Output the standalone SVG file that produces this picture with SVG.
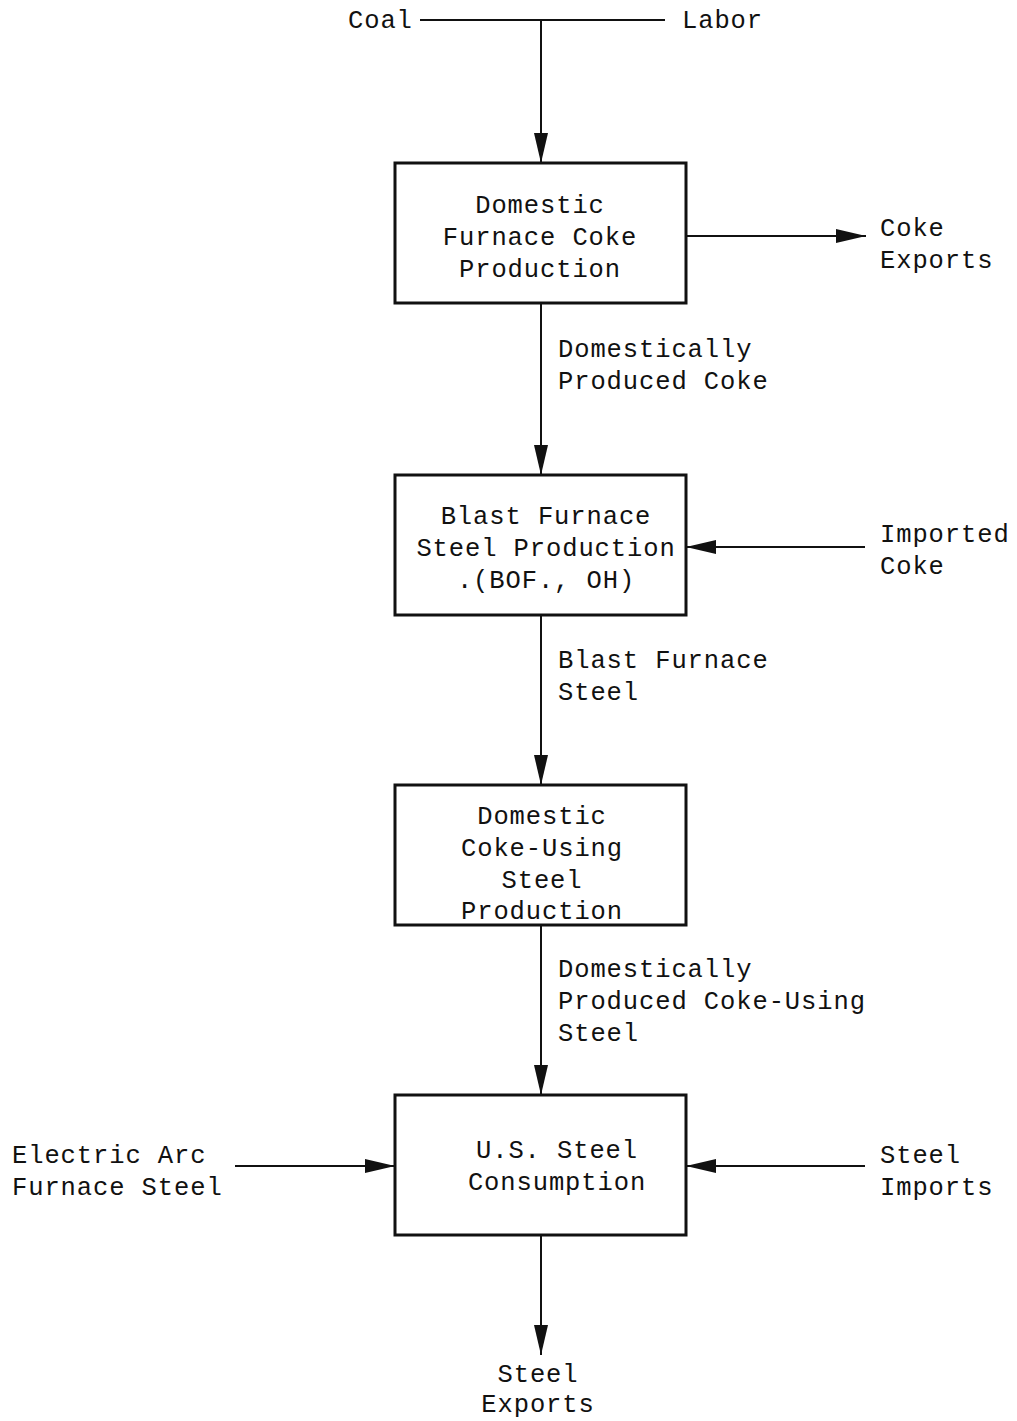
<svg xmlns="http://www.w3.org/2000/svg" width="1017" height="1421" viewBox="0 0 1017 1421">
<style>
text{font-family:"Liberation Mono","DejaVu Sans Mono",monospace;font-size:25.5px;letter-spacing:0.9px;fill:#111}
.c{text-anchor:middle}
.box{fill:#fff;stroke:#111;stroke-width:3}
.ln{stroke:#111;stroke-width:2;fill:none}
</style>
<defs>
<marker id="ah" markerUnits="userSpaceOnUse" markerWidth="30" markerHeight="14" refX="30" refY="7" orient="auto">
<path d="M0,0 L30,7 L0,14 Z" fill="#111"/>
</marker>
</defs>
<rect width="1017" height="1421" fill="#fff"/>
<g id="connectors">
<line class="ln" x1="420" y1="20" x2="665" y2="20"/>
<line class="ln" x1="541" y1="20" x2="541" y2="163" marker-end="url(#ah)"/>
<line class="ln" x1="686" y1="236" x2="866" y2="236" marker-end="url(#ah)"/>
<line class="ln" x1="541" y1="303" x2="541" y2="475" marker-end="url(#ah)"/>
<line class="ln" x1="865" y1="547" x2="686" y2="547" marker-end="url(#ah)"/>
<line class="ln" x1="541" y1="615" x2="541" y2="785" marker-end="url(#ah)"/>
<line class="ln" x1="541" y1="925" x2="541" y2="1095" marker-end="url(#ah)"/>
<line class="ln" x1="235" y1="1166" x2="395" y2="1166" marker-end="url(#ah)"/>
<line class="ln" x1="865" y1="1166" x2="686" y2="1166" marker-end="url(#ah)"/>
<line class="ln" x1="541" y1="1235" x2="541" y2="1355" marker-end="url(#ah)"/>
</g>
<g id="labels">
<text x="348" y="28">Coal</text>
<text x="682" y="28">Labor</text>
<text x="880" y="236">Coke</text>
<text x="880" y="268">Exports</text>
<text x="558" y="357">Domestically</text>
<text x="558" y="389">Produced Coke</text>
<text x="880" y="542">Imported</text>
<text x="880" y="574">Coke</text>
<text x="558" y="668">Blast Furnace</text>
<text x="558" y="700">Steel</text>
<text x="558" y="977">Domestically</text>
<text x="558" y="1009">Produced Coke-Using</text>
<text x="558" y="1041">Steel</text>
<text x="12" y="1163">Electric Arc</text>
<text x="12" y="1195">Furnace Steel</text>
<text x="880" y="1163">Steel</text>
<text x="880" y="1195">Imports</text>
<text class="c" x="538" y="1382">Steel</text>
<text class="c" x="538" y="1412">Exports</text>
</g>
<g id="node-coke-production">
<rect class="box" x="395" y="163" width="291" height="140"/>
<text class="c" x="540" y="213">Domestic</text>
<text class="c" x="540" y="245">Furnace Coke</text>
<text class="c" x="540" y="277">Production</text>
</g>
<g id="node-blast-furnace">
<rect class="box" x="395" y="475" width="291" height="140"/>
<text class="c" x="546" y="524">Blast Furnace</text>
<text class="c" x="546" y="556">Steel Production</text>
<text class="c" x="546" y="588">.(BOF., OH)</text>
</g>
<g id="node-coke-using-steel">
<rect class="box" x="395" y="785" width="291" height="140"/>
<text class="c" x="542" y="824">Domestic</text>
<text class="c" x="542" y="856">Coke-Using</text>
<text class="c" x="542" y="888">Steel</text>
<text class="c" x="542" y="919">Production</text>
</g>
<g id="node-consumption">
<rect class="box" x="395" y="1095" width="291" height="140"/>
<text class="c" x="557" y="1158">U.S. Steel</text>
<text class="c" x="557" y="1190">Consumption</text>
</g>
</svg>
